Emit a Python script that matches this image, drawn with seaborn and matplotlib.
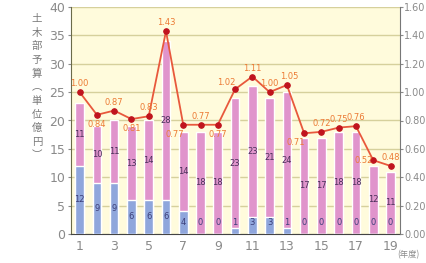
import numpy as np
import pandas as pd
import matplotlib
matplotlib.use("Agg")
import matplotlib.pyplot as plt
import seaborn as sns

# data
years = list(range(1, 20))
blue_vals = [12, 9, 9, 6, 6, 6, 4, 0, 0, 1, 3, 3, 1, 0, 0, 0, 0, 0, 0]
pink_vals = [11, 10, 11, 13, 14, 28, 14, 18, 18, 23, 23, 21, 24, 17, 17, 18, 18, 12, 11]
ratio_vals = [1.00, 0.84, 0.87, 0.81, 0.83, 1.43, 0.77, 0.77, 0.77, 1.02,
              1.11, 1.00, 1.05, 0.71, 0.72, 0.75, 0.76, 0.52, 0.48]
ratio_labels = ["1.00", "0.84", "0.87", "0.81", "0.83", "1.43", "0.77", "0.77", "0.77", "1.02",
                "1.11", "1.00", "1.05", "0.71", "0.72", "0.75", "0.76", "0.52", "0.48"]
xtick_labels = ["1", "3", "5", "7", "9", "11", "13", "15", "17", "19"]

df = pd.DataFrame({"year": years, "blue": blue_vals, "pink": pink_vals, "ratio": ratio_vals})
df["total"] = df["blue"] + df["pink"]

sns.set_style("white")
plt.rcParams["font.family"] = ["DejaVu Sans", "Noto Sans CJK JP"]

fig = plt.figure(figsize=(4.27, 2.63), dpi=100)
ax = fig.add_axes([71 / 427, 29 / 263, 329 / 427, 227 / 263])
ax.set_facecolor("#fffbdc")

pink = "#e094cc"
blue = "#8fa6dc"
sns.barplot(data=df, x="year", y="total", native_scale=True, color=pink,
            width=0.5, saturation=1, ax=ax, zorder=2)
sns.barplot(data=df, x="year", y="blue", native_scale=True, color=blue,
            width=0.5, saturation=1, ax=ax, zorder=3)

ax.set_xlim(0.5, 19.55)
ax.set_ylim(0, 40)
ax.set_yticks(range(0, 41, 5))
ax.set_xticks(range(1, 20, 2))
ax.set_xticklabels(xtick_labels)
ax.set_xlabel("")
ax.set_ylabel("")
ax.grid(axis="y", color="#d6d09c", linewidth=1.0, zorder=0)
ax.set_axisbelow(True)
ax.tick_params(axis="both", labelsize=9, colors="#8a8a8a", length=2, pad=2)
for s in ["top", "right"]:
    ax.spines[s].set_visible(False)
ax.spines["left"].set_color("#6b6b4a")
ax.spines["bottom"].set_color("#444444")

# value labels inside bars
for yr, b, p in zip(years, blue_vals, pink_vals):
    ax.text(yr, max(b / 2, 2), str(b), ha="center", va="center",
            fontsize=6, color="#3c3f7a", zorder=5)
    ax.text(yr, b + p / 2, str(p), ha="center", va="center",
            fontsize=6, color="#4a2f5a", zorder=5)

# ratio line on right axis
ax2 = ax.twinx()
sns.lineplot(data=df, x="year", y="ratio", ax=ax2, color="#e8583c", linewidth=1.3,
             marker="o", markersize=4, markerfacecolor="#c0141e", markeredgecolor="#c0141e")
ax2.set_ylim(0, 1.6)
ax2.set_yticks(np.arange(0, 1.61, 0.2))
ax2.set_yticklabels([f"{v:.2f}" for v in np.arange(0, 1.61, 0.2)])
ax2.set_ylabel("")
ax2.set_xlabel("")
ax2.tick_params(axis="y", labelsize=7, colors="#8a8a8a", length=2, pad=1)
for s in ["top", "left", "bottom"]:
    ax2.spines[s].set_visible(False)
ax2.spines["right"].set_color("#777777")

# label offsets (points) per point of the line
offsets = [(0, 6), (0, -7), (0, 6), (0, -7), (0, 6), (0, 6), (-6, -7), (0, 6), (0, -7), (-6, 5),
           (0, 6), (0, 6), (2, 6), (-6, -7), (0, 6), (0, 6), (0, 6), (-7, 0), (0, 6)]
for x, y, lab, (dx, dy) in zip(years, ratio_vals, ratio_labels, offsets):
    ax2.annotate(lab, (x, y), xytext=(dx, dy), textcoords="offset points",
                 ha="center", va="center", fontsize=6, color="#ec7a34")

# vertical axis title and unit
fig.text(37 / 427, 1 - 14 / 263, "土\n木\n部\n予\n算\n︵\n単\n位\n億\n円\n︶", ha="center", va="top",
         fontsize=7.5, color="#7a7a7a", linespacing=1.45,
         family=["Noto Sans CJK JP", "DejaVu Sans"])
fig.text(408 / 427, 1 - 255 / 263, "(年度)", ha="center", va="center", fontsize=6,
         color="#8a8a8a", family=["Noto Sans CJK JP", "DejaVu Sans"])

fig.savefig("out.png", dpi=100)
